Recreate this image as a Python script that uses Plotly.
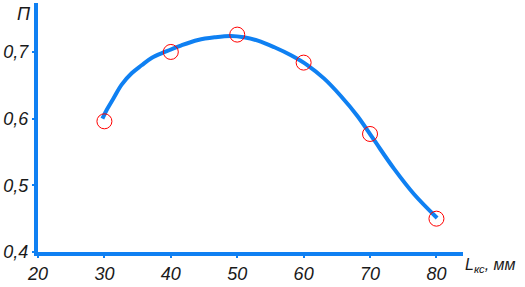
import plotly.graph_objects as go

# measured points
x_pts = [30, 40, 50, 60, 70, 80]
y_pts = [0.596, 0.700, 0.726, 0.684, 0.577, 0.450]

# fitted curve
x_curve = [29.7, 30.4, 31.4, 32.6, 34.1, 35.6, 37.1, 39.1, 41.6, 44.1, 46.6, 49.1,
           51.0, 53.1, 55.6, 58.1, 60.6, 63.1, 65.6, 68.1, 70.6, 73.6, 76.6, 80.1]
y_curve = [0.600, 0.614, 0.631, 0.651, 0.668, 0.680, 0.691, 0.700, 0.710, 0.718, 0.722, 0.724,
           0.722, 0.717, 0.707, 0.695, 0.680, 0.660, 0.634, 0.604, 0.568, 0.525, 0.487, 0.451]

x_ticks = [20, 30, 40, 50, 60, 70, 80]
x_ticktext = ["20", "30", "40", "50", "60", "70", "80"]
y_ticks = [0.4, 0.5, 0.6, 0.7]
y_ticktext = ["0,4", "0,5", "0,6", "0,7"]

BLUE = "#0f80f2"
FONT = dict(family="Liberation Sans", size=18, color="#1a1a1a", style="italic")
FONT_S = dict(family="Liberation Sans", size=16, color="#1a1a1a", style="italic")

fig = go.Figure()
fig.add_trace(go.Scatter(x=x_curve, y=y_curve, mode="lines", line=dict(color=BLUE, width=4, shape="spline"),
                         hoverinfo="skip"))
fig.add_trace(go.Scatter(x=x_pts, y=y_pts, mode="markers",
                         marker=dict(symbol="circle-open", size=15, color="red", line=dict(width=1, color="red"))))

fig.update_layout(
    width=525, height=287,
    margin=dict(l=36, r=62, t=3, b=29),
    plot_bgcolor="white", paper_bgcolor="white",
    showlegend=False,
    xaxis=dict(range=[20, 84], tickvals=x_ticks, ticktext=x_ticktext, showline=True, linewidth=4,
               linecolor=BLUE, showgrid=False, zeroline=False, ticks="outside", ticklen=2,
               tickwidth=2, tickcolor=BLUE, tickfont=FONT),
    yaxis=dict(range=[0.4, 0.7734], tickvals=y_ticks, ticktext=y_ticktext, showline=True, linewidth=4,
               linecolor=BLUE, showgrid=False, zeroline=False, ticks="outside", ticklen=2,
               tickwidth=2, tickcolor=BLUE, tickfont=FONT),
)

fig.add_annotation(text="П", x=-0.033, y=0.955, xref="paper", yref="paper", showarrow=False,
                   font=FONT, xanchor="center", yanchor="middle")
fig.add_annotation(text="L<sub>кс</sub>, мм", x=1.0, y=0, xref="paper", yref="paper", showarrow=False,
                   font=FONT_S, xanchor="left", yanchor="top", xshift=0, yshift=-2)

fig.write_html("out.html")
